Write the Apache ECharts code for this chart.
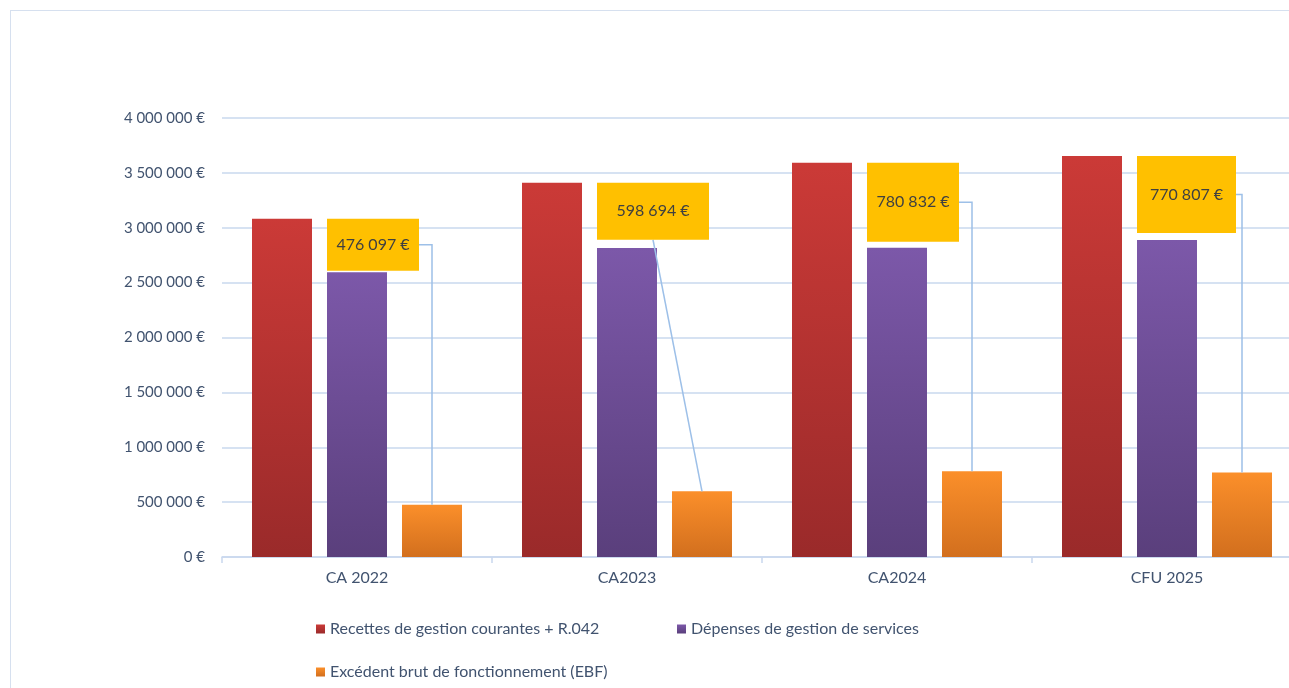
<!DOCTYPE html>
<html>
<head>
<meta charset="utf-8">
<script src="https://cdn.jsdelivr.net/npm/echarts@6/dist/echarts.min.js"></script>
<style>
html,body{margin:0;padding:0;background:#fff;overflow:hidden;}
#wrap{position:relative;width:1289px;height:688px;overflow:hidden;}
#frame{position:absolute;left:10px;top:10px;width:1400px;height:800px;border-top:1.5px solid #D6E0EF;border-left:1.5px solid #D6E0EF;box-sizing:border-box;pointer-events:none;}
#chart{position:absolute;left:0;top:0;width:1289px;height:688px;}
</style>
</head>
<body>
<div id="wrap"><div id="frame"></div><div id="chart"></div></div>
<script>
// ---- Data ----
const categories = ['CA 2022', 'CA2023', 'CA2024', 'CFU 2025'];
const seriesNames = [
  'Recettes de gestion courantes + R.042',
  'Dépenses de gestion de services',
  'Excédent brut de fonctionnement (EBF)'
];
const recettes = [3082000, 3410000, 3593000, 3654000];
const depenses = [2594000, 2815000, 2818000, 2888000];
const ebf = [476097, 598694, 780832, 770807];
const yMin = 0, yMax = 4000000, yStep = 500000;

// ---- Styles / layout constants ----
const BAR_W = 60, BAR_GAP = 15;
const calloutW = [92, 112, 92, 99];
const calloutH = [52, 57, 79, 77];
const FONT = 'Lato, Carlito, "Open Sans", sans-serif';
const TXT = '#41536F';

function fmt(v) {
  return String(Math.round(v)).replace(/\B(?=(\d{3})+(?!\d))/g, ' ') + ' €';
}
function grad(top, bottom) {
  return {type: 'linear', x: 0, y: 0, x2: 0, y2: 1,
    colorStops: [{offset: 0, color: top}, {offset: 1, color: bottom}]};
}

const chart = echarts.init(document.getElementById('chart'), null, {renderer: 'canvas'});

const legendCommon = {
  orient: 'horizontal', padding: 0, itemWidth: 9, itemHeight: 9, icon: 'rect',
  textStyle: {color: TXT, fontSize: 16, fontFamily: FONT}, selectedMode: false
};

chart.setOption({
  backgroundColor: 'transparent',
  animation: false,
  grid: {left: 222, top: 118, width: 1080, height: 439, containLabel: false, outerBoundsMode: 'none'},
  legend: [
    Object.assign({data: [seriesNames[0]], left: 316, top: 621}, legendCommon),
    Object.assign({data: [seriesNames[1]], left: 677, top: 621}, legendCommon),
    Object.assign({data: [seriesNames[2]], left: 316, top: 664}, legendCommon)
  ],
  xAxis: {
    type: 'category', data: categories,
    axisLine: {lineStyle: {color: '#C9D8EE', width: 1.5}},
    axisTick: {show: true, length: 6, lineStyle: {color: '#C9D8EE', width: 1.5}},
    axisLabel: {color: TXT, fontSize: 16, fontFamily: FONT, margin: 13}
  },
  yAxis: {
    type: 'value', min: yMin, max: yMax, interval: yStep,
    axisLine: {show: false}, axisTick: {show: false},
    splitLine: {lineStyle: {color: '#C9D8EE', width: 1.5}},
    axisLabel: {color: TXT, fontSize: 15, fontFamily: FONT, margin: 17, formatter: fmt}
  },
  series: [
    {name: seriesNames[0], type: 'bar', data: recettes, barWidth: BAR_W, barGap: (BAR_GAP / BAR_W * 100) + '%',
     itemStyle: {color: grad('#CB3A37', '#9A2A2A')}},
    {name: seriesNames[1], type: 'bar', data: depenses, barWidth: BAR_W, barGap: (BAR_GAP / BAR_W * 100) + '%',
     itemStyle: {color: grad('#7C58A9', '#5A3F7C')}},
    {name: seriesNames[2], type: 'bar', data: ebf, barWidth: BAR_W, barGap: (BAR_GAP / BAR_W * 100) + '%',
     itemStyle: {color: grad('#FB8F2A', '#D26F1E')}}
  ]
});

function drawCallouts() {
  const g = [];
  for (let i = 0; i < categories.length; i++) {
    const c = chart.convertToPixel({xAxisIndex: 0, yAxisIndex: 0}, [i, recettes[i]]);
    const catX = c[0], redTop = c[1];
    const oTop = chart.convertToPixel({xAxisIndex: 0, yAxisIndex: 0}, [i, ebf[i]])[1];
    const oX = catX + BAR_W + BAR_GAP;
    const bx = catX - BAR_W / 2, by = redTop;
    const bw = calloutW[i], bh = calloutH[i];
    let pts;
    if (bx + bw < oX) {
      pts = [[bx + bw, by + bh / 2], [oX, by + bh / 2], [oX, oTop]];
    } else {
      pts = [[bx + bw / 2, by + bh], [oX, oTop]];
    }
    g.push({type: 'polyline', shape: {points: pts}, style: {stroke: '#9DC0E8', lineWidth: 1.5, fill: null}, z: 50, silent: true});
    g.push({type: 'rect', shape: {x: bx, y: by, width: bw, height: bh}, style: {fill: '#FFC000'}, z: 60, silent: true});
    g.push({type: 'text', x: bx + bw / 2, y: by + bh / 2, z: 61, silent: true,
      style: {text: fmt(ebf[i]), fill: '#404040', font: '16px ' + FONT, textAlign: 'center', textVerticalAlign: 'middle'}});
  }
  chart.setOption({graphic: g});
}
drawCallouts();
</script>
</body>
</html>
